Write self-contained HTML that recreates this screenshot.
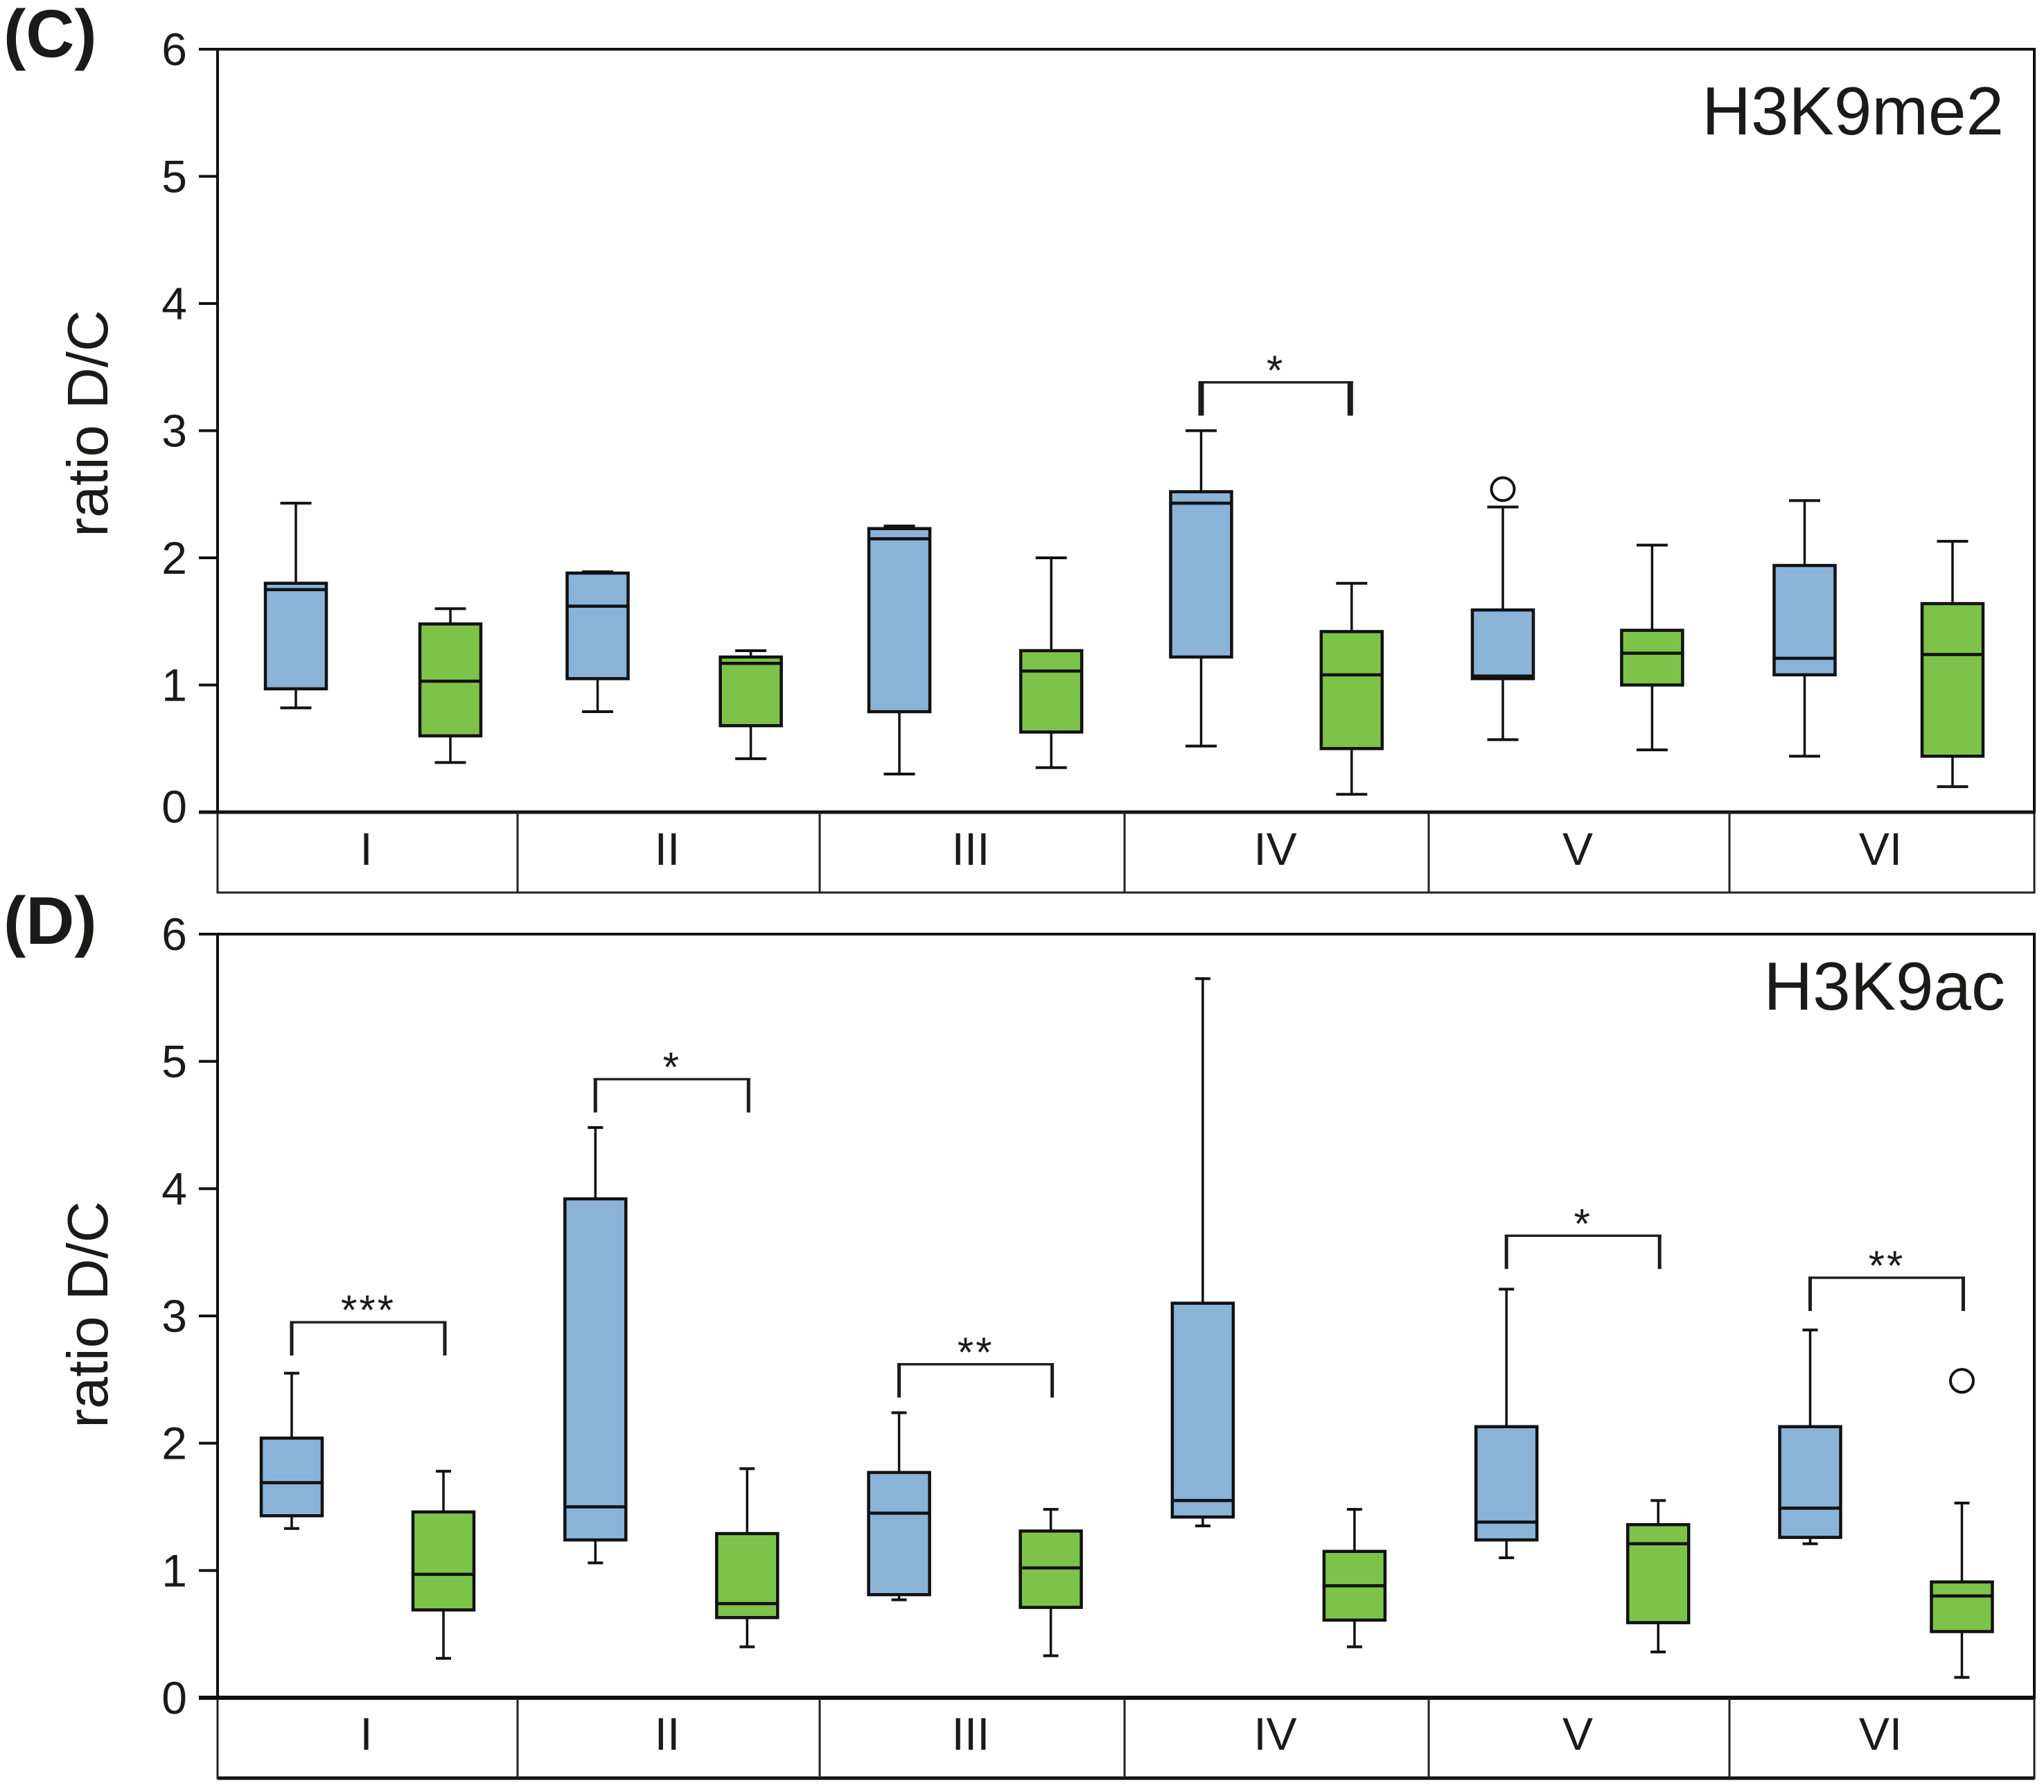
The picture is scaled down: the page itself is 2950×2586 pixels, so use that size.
<!DOCTYPE html>
<html lang="en">
<head>
<meta charset="utf-8">
<title>H3K9me2 and H3K9ac ratio D/C box plots</title>
<style>
  html, body { margin: 0; padding: 0; background: #fff; width: 2950px; height: 2586px; overflow: hidden; }
  svg { display: block; }
  text { font-family: "Liberation Sans", sans-serif; fill: #1a1a18; }
</style>
</head>
<body>
<svg id="chart" xmlns="http://www.w3.org/2000/svg" width="2950" height="2586" viewBox="0 0 2950 2586">
  <rect x="0" y="0" width="2950" height="2586" fill="#fff"/>

  <g id="panel-c">
    <text x="5" y="82" font-size="97" font-weight="700">(C)</text>
    <text x="2892" y="194" font-size="98" text-anchor="end">H3K9me2</text>
    <text transform="translate(155 611) rotate(-90)" font-size="83" text-anchor="middle">ratio D/C</text>
    <rect x="314" y="71" width="2622" height="1101" fill="none" stroke="#111" stroke-width="4"/>
    <rect x="314" y="1172" width="2622" height="116" fill="none" stroke="#222" stroke-width="3"/>
    <line x1="287" x2="2936" y1="1172" y2="1172" stroke="#111" stroke-width="5"/>
    <g class="dividers" stroke="#222" stroke-width="3">
      <line x1="747" x2="747" y1="1172" y2="1288"/>
      <line x1="1183" x2="1183" y1="1172" y2="1288"/>
      <line x1="1623" x2="1623" y1="1172" y2="1288"/>
      <line x1="2062" x2="2062" y1="1172" y2="1288"/>
      <line x1="2496" x2="2496" y1="1172" y2="1288"/>
    </g>
  </g>

  <g id="panel-d">
    <text x="5" y="1362" font-size="97" font-weight="700">(D)</text>
    <text x="2894" y="1457" font-size="98" text-anchor="end">H3K9ac</text>
    <text transform="translate(155 1897) rotate(-90)" font-size="83" text-anchor="middle">ratio D/C</text>
    <rect x="314" y="1348" width="2622" height="1102" fill="none" stroke="#111" stroke-width="4"/>
    <rect x="314" y="2450" width="2622" height="116" fill="none" stroke="#222" stroke-width="3"/>
    <line x1="287" x2="2936" y1="2450" y2="2450" stroke="#111" stroke-width="6"/>
    <line x1="314" x2="2936" y1="2566" y2="2566" stroke="#111" stroke-width="5"/>
    <g class="dividers" stroke="#222" stroke-width="3">
      <line x1="747" x2="747" y1="2450" y2="2566"/>
      <line x1="1183" x2="1183" y1="2450" y2="2566"/>
      <line x1="1623" x2="1623" y1="2450" y2="2566"/>
      <line x1="2062" x2="2062" y1="2450" y2="2566"/>
      <line x1="2496" x2="2496" y1="2450" y2="2566"/>
    </g>
  </g>
</svg>

<script>
const categories = ['I', 'II', 'III', 'IV', 'V', 'VI'];
const yTickLabels = [0, 1, 2, 3, 4, 5, 6];
const seriesNames = ['blue', 'green'];

/* Panel C: H3K9me2 */
const cBlueLow  = [0.82, 0.79, 0.30, 0.52, 0.57, 0.44];
const cBlueQ1   = [0.97, 1.05, 0.79, 1.22, 1.05, 1.08];
const cBlueMed  = [1.75, 1.62, 2.15, 2.43, 1.07, 1.21];
const cBlueQ3   = [1.80, 1.88, 2.23, 2.52, 1.59, 1.94];
const cBlueHigh = [2.43, 1.89, 2.25, 3.00, 2.40, 2.45];

const cGreenLow  = [0.39, 0.42, 0.35, 0.14, 0.49, 0.20];
const cGreenQ1   = [0.60, 0.68, 0.63, 0.50, 1.00, 0.44];
const cGreenMed  = [1.03, 1.17, 1.11, 1.08, 1.25, 1.24];
const cGreenQ3   = [1.48, 1.22, 1.27, 1.42, 1.43, 1.64];
const cGreenHigh = [1.60, 1.27, 2.00, 1.80, 2.10, 2.13];

const cOutlierGroups = [4];
const cOutlierSeries = [0];
const cOutlierValues = [2.54];

const cSigGroups = [3];
const cSigLevels = [3.38];
const cSigLabels = ['*'];

/* Panel D: H3K9ac */
const dBlueLow  = [1.33, 1.06, 0.77, 1.35, 1.10, 1.21];
const dBlueQ1   = [1.43, 1.24, 0.81, 1.42, 1.24, 1.26];
const dBlueMed  = [1.69, 1.50, 1.45, 1.55, 1.38, 1.49];
const dBlueQ3   = [2.04, 3.92, 1.77, 3.10, 2.13, 2.13];
const dBlueHigh = [2.55, 4.48, 2.24, 5.65, 3.21, 2.89];

const dGreenLow  = [0.31, 0.40, 0.33, 0.40, 0.36, 0.16];
const dGreenQ1   = [0.69, 0.63, 0.71, 0.61, 0.59, 0.52];
const dGreenMed  = [0.97, 0.74, 1.02, 0.88, 1.21, 0.80];
const dGreenQ3   = [1.46, 1.29, 1.31, 1.15, 1.36, 0.91];
const dGreenHigh = [1.78, 1.80, 1.48, 1.48, 1.55, 1.53];

const dOutlierGroups = [5];
const dOutlierSeries = [1];
const dOutlierValues = [2.49];

const dSigGroups = [0, 1, 2, 4, 5];
const dSigLevels = [2.95, 4.86, 2.62, 3.63, 3.30];
const dSigLabels = ['***', '*', '**', '*', '**'];

const SVG_NS = 'http://www.w3.org/2000/svg';
const STROKE = '#111';
const FILLS = ['#8ab3d8', '#7dc34a'];

function make(parent, tag, attrs) {
  const el = document.createElementNS(SVG_NS, tag);
  for (const k in attrs) el.setAttribute(k, attrs[k]);
  parent.appendChild(el);
  return el;
}

function drawPanel(opts) {
  const root = document.getElementById('panel-' + opts.key);
  const yScale = function (v) { return opts.y0 + (opts.y6 - opts.y0) * v / 6; };
  const xScale = function (group, series) { return opts.seriesX0[series] + opts.seriesStep[series] * group; };

  const edges = [314];
  root.querySelectorAll('.dividers line').forEach(function (l) { edges.push(+l.getAttribute('x1')); });
  edges.push(2936);
  const bandCenter = function (i) { return (edges[i] + edges[i + 1]) / 2 - 2; };

  yTickLabels.forEach(function (t) {
    const y = yScale(t);
    const tick = make(root, 'line', { x1: 287, x2: 314, y1: y, y2: y, stroke: STROKE, 'stroke-width': 4 });
    
    
    const dy = (t === 0 && opts.key === 'c') ? 15 : 23;
    const label = make(root, 'text', { x: 270, y: y + dy, 'font-size': 66, 'text-anchor': 'end' });
    label.textContent = String(t);
    
    
  });

  categories.forEach(function (c, i) {
    const label = make(root, 'text', { x: bandCenter(i), y: opts.catBaseline, 'font-size': 66, 'text-anchor': 'middle' });
    label.textContent = c;
    
    
  });

  opts.series.forEach(function (s, si) {
    categories.forEach(function (c, i) {
      const cx = xScale(i, si);
      const hw = opts.boxWidth / 2;
      const g = make(root, 'g', {});
      
      

      const stem = make(g, 'line', { x1: cx, x2: cx, y1: yScale(s.high[i]), y2: yScale(s.low[i]), stroke: STROKE, 'stroke-width': 3.5 });
      
      

      const capTop = make(g, 'line', { x1: cx - opts.capWidth / 2, x2: cx + opts.capWidth / 2, y1: yScale(s.high[i]), y2: yScale(s.high[i]), stroke: STROKE, 'stroke-width': 4 });
      
      

      const capLow = make(g, 'line', { x1: cx - opts.capWidth / 2, x2: cx + opts.capWidth / 2, y1: yScale(s.low[i]), y2: yScale(s.low[i]), stroke: STROKE, 'stroke-width': 4 });
      
      

      const box = make(g, 'rect', { x: cx - hw, y: yScale(s.q3[i]), width: opts.boxWidth, height: yScale(s.q1[i]) - yScale(s.q3[i]), fill: FILLS[si], stroke: STROKE, 'stroke-width': 4.5 });
      
      

      const med = make(g, 'line', { x1: cx - hw, x2: cx + hw, y1: yScale(s.med[i]), y2: yScale(s.med[i]), stroke: STROKE, 'stroke-width': 4.5 });
      
      
    });
  });

  opts.outlierValues.forEach(function (v, k) {
    const circle = make(root, 'circle', { cx: xScale(opts.outlierGroups[k], opts.outlierSeries[k]), cy: yScale(v), r: 16.5, fill: '#fff', stroke: STROKE, 'stroke-width': 4 });
    
    
  });

  opts.sigLevels.forEach(function (v, k) {
    const group = opts.sigGroups[k];
    const xa = xScale(group, 0);
    const xb = xScale(group, 1) + opts.bracketRightShift;
    const y = yScale(v);
    const g = make(root, 'g', {});
    
    

    const top = make(g, 'line', { x1: xa - opts.legWidth / 2, x2: xb + opts.legWidth / 2, y1: y, y2: y, stroke: '#222', 'stroke-width': 3.5 });
    
    

    const legA = make(g, 'line', { x1: xa, x2: xa, y1: y - 1.5, y2: y + opts.legLength, stroke: '#1c1c1a', 'stroke-width': opts.legWidth });
    
    

    const legB = make(g, 'line', { x1: xb, x2: xb, y1: y - 1.5, y2: y + opts.legLength, stroke: '#1c1c1a', 'stroke-width': opts.legWidth });
    
    

    const star = make(g, 'text', { x: (xa + xb) / 2, y: y + 3, 'font-size': 60, 'letter-spacing': 3, 'text-anchor': 'middle' });
    star.textContent = opts.sigLabels[k];
    
    
  });
}

drawPanel({
  key: 'c', y0: 1172, y6: 71, seriesX0: [427, 650], seriesStep: [435.5, 433.6],
  boxWidth: 88, capWidth: 45, catBaseline: 1248, legLength: 48, legWidth: 8, bracketRightShift: -2,
  series: [
    { low: cBlueLow, q1: cBlueQ1, med: cBlueMed, q3: cBlueQ3, high: cBlueHigh },
    { low: cGreenLow, q1: cGreenQ1, med: cGreenMed, q3: cGreenQ3, high: cGreenHigh }
  ],
  outlierGroups: cOutlierGroups, outlierSeries: cOutlierSeries, outlierValues: cOutlierValues,
  sigGroups: cSigGroups, sigLevels: cSigLevels, sigLabels: cSigLabels
});

drawPanel({
  key: 'd', y0: 2450, y6: 1348, seriesX0: [421, 640], seriesStep: [438.3, 438.3],
  boxWidth: 88, capWidth: 22, catBaseline: 2525, legLength: 48, legWidth: 5, bracketRightShift: 2,
  series: [
    { low: dBlueLow, q1: dBlueQ1, med: dBlueMed, q3: dBlueQ3, high: dBlueHigh },
    { low: dGreenLow, q1: dGreenQ1, med: dGreenMed, q3: dGreenQ3, high: dGreenHigh }
  ],
  outlierGroups: dOutlierGroups, outlierSeries: dOutlierSeries, outlierValues: dOutlierValues,
  sigGroups: dSigGroups, sigLevels: dSigLevels, sigLabels: dSigLabels
});
</script>
</body>
</html>
